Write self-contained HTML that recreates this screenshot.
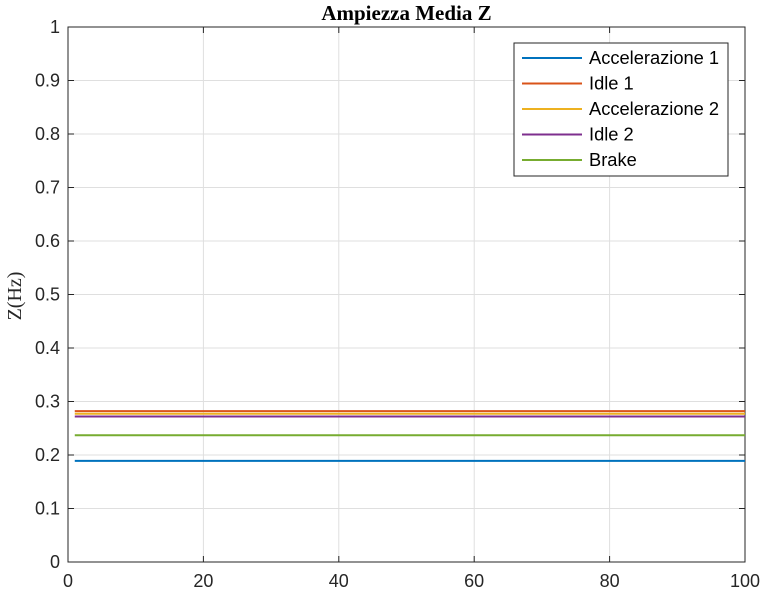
<!DOCTYPE html>
<html><head><meta charset="utf-8"><style>body{margin:0;background:#fff}svg{display:block}</style></head>
<body>
<svg id="c" width="766" height="595" xmlns="http://www.w3.org/2000/svg" font-family="Liberation Sans, sans-serif"></svg>
<script>
const seriesNames=["Accelerazione 1","Idle 1","Accelerazione 2","Idle 2","Brake"];
const seriesValues=[0.189,0.282,0.277,0.272,0.237];
const seriesColors=["#0072BD","#D95319","#EDB120","#7E2F8E","#77AC30"];
const xStart=1, xEnd=100;
const xTicks=[0,20,40,60,80,100];
const yTicks=[0,0.1,0.2,0.3,0.4,0.5,0.6,0.7,0.8,0.9,1];
const L=68,R=745,T=27,B=562;
const sx=v=>L+(v-0)/(100-0)*(R-L);
const sy=v=>B-(v-0)/(1-0)*(B-T);
const svg=document.getElementById('c');const NS='http://www.w3.org/2000/svg';
function mk(t,a,p){const e=document.createElementNS(NS,t);for(const k in a)e.setAttribute(k,a[k]);(p||svg).appendChild(e);return e;}
const bg=mk('rect',{x:L,y:T,width:R-L,height:B-T,fill:'#fff'});


xTicks.forEach(v=>{
 const g=mk('line',{x1:sx(v),x2:sx(v),y1:T,y2:B,stroke:'#dfdfdf','stroke-width':1});
 
 
 mk('line',{x1:sx(v),x2:sx(v),y1:B,y2:B-6,stroke:'#262626'});
 mk('line',{x1:sx(v),x2:sx(v),y1:T,y2:T+6,stroke:'#262626'});
 const t=mk('text',{x:sx(v),y:B+25,'text-anchor':'middle','font-size':18,fill:'#262626'});t.textContent=v;
 
 
});
yTicks.forEach(v=>{
 const g=mk('line',{x1:L,x2:R,y1:sy(v),y2:sy(v),stroke:'#dfdfdf','stroke-width':1});
 
 
 mk('line',{x1:L,x2:L+6,y1:sy(v),y2:sy(v),stroke:'#262626'});
 mk('line',{x1:R,x2:R-6,y1:sy(v),y2:sy(v),stroke:'#262626'});
 const t=mk('text',{x:L-8,y:sy(v)+6,'text-anchor':'end','font-size':18,fill:'#262626'});t.textContent=v;
 
 
});
const ax=mk('rect',{x:L,y:T,width:R-L,height:B-T,fill:'none',stroke:'#262626'});


seriesValues.forEach((v,i)=>{
 const l=mk('line',{x1:sx(xStart),x2:sx(xEnd),y1:sy(v),y2:sy(v),stroke:seriesColors[i],'stroke-width':2});
 
 
});
const title=mk('text',{x:(L+R)/2,y:20,'text-anchor':'middle','font-size':21,'font-weight':'bold','font-family':'Liberation Serif, serif',fill:'#000'});
title.textContent='Ampiezza Media Z';


const yl=mk('text',{x:0,y:0,transform:'translate(21,296) rotate(-90)','text-anchor':'middle','font-size':20,'font-family':'Liberation Serif, serif',fill:'#262626'});
yl.textContent='Z(Hz)';


const lg=mk('g',{});


mk('rect',{x:514,y:43,width:214,height:133,fill:'#fff',stroke:'#262626'},lg);
seriesNames.forEach((n,i)=>{
 const y=58+i*25.5;
 mk('line',{x1:522,x2:582,y1:y,y2:y,stroke:seriesColors[i],'stroke-width':2},lg);
 const t=mk('text',{x:589,y:y+6,'font-size':18.3,fill:'#000'},lg);t.textContent=n;
 
 
});
</script>
</body></html>
